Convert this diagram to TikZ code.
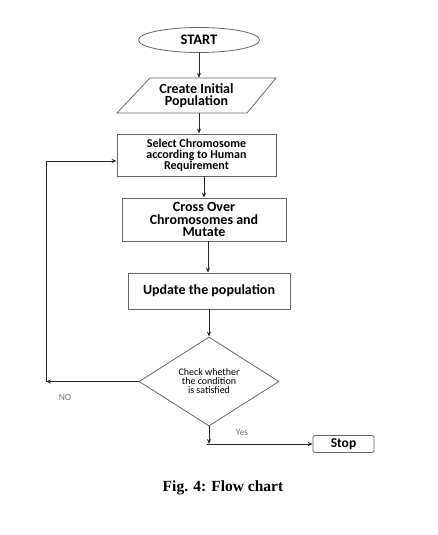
\documentclass[tikz,border=0pt]{standalone}
\usepackage{fontspec}
\setmainfont{Carlito}
\newfontfamily\capfont{Liberation Serif}
\usetikzlibrary{shapes.geometric,arrows.meta}
\begin{document}
\begin{tikzpicture}[x=1pt,y=-1pt,
  boxstyle/.style={draw=black!60, line width=0.8pt, align=center, inner sep=0pt},
  arr/.style={-{Stealth[length=5pt,width=4pt]}, line width=0.8pt, draw=black!85},
  plain/.style={line width=0.8pt, draw=black!85},
  lab/.style={text=black!55, font=\fontsize{9.5}{9.5}\selectfont, inner sep=0pt}]
\useasboundingbox[fill=white] (0,0) rectangle (438,535);

% START
\node[boxstyle, ellipse, minimum width=121pt, minimum height=25pt,
      font=\bfseries\fontsize{14.5}{14.5}\selectfont] (start) at (199,40) {START};

% Create Initial Population (parallelogram)
\node[inner sep=0pt, minimum width=159pt, minimum height=35pt, align=center,
      font=\bfseries\fontsize{14}{12.5}\selectfont] (create) at (196.5,95.5)
      {Create Initial\\Population};
\draw[draw=black!60, line width=0.8pt] (150,78) -- (276,78) -- (247,113) -- (117,113) -- cycle;

% Select
\node[boxstyle, minimum width=159pt, minimum height=42pt,
      font=\bfseries\fontsize{12}{11}\selectfont] (select) at (196.5,155)
      {Select Chromosome\\according to Human\\Requirement};

% Cross over
\node[boxstyle, minimum width=164pt, minimum height=43pt,
      font=\bfseries\fontsize{14}{12.5}\selectfont] (cross) at (204,219.5)
      {Cross Over\\Chromosomes and\\Mutate};

% Update
\node[boxstyle, minimum width=162pt, minimum height=36pt,
      font=\bfseries\fontsize{14}{14}\selectfont] (update) at (209,291)
      {Update the population};

% Check
\node[boxstyle, diamond, minimum width=140pt, minimum height=89pt, aspect=1.57,
      font=\fontsize{10}{9}\selectfont] (check) at (209,381.5)
      {Check whether\\the condition\\is satisfied};

% Stop
\node[boxstyle, rounded corners=2pt, minimum width=61pt, minimum height=17pt,
      font=\bfseries\fontsize{13.5}{13.5}\selectfont] (stop) at (343.5,444)
      {Stop};

% connectors
\draw[arr] (start.south) -- (start.south |- create.north);
\coordinate (c1) at (199,113);
\draw[arr] (c1) -- (c1 |- select.north);
\coordinate (c2) at (204,176);
\draw[arr] (c2) -- (c2 |- cross.north);
\coordinate (c3) at (208,241);
\draw[arr] (c3) -- (c3 |- update.north);
\coordinate (c4) at (209,309);
\draw[arr] (c4) -- (check.north);

% NO branch
\coordinate (nocorner) at (46,381.5);
\coordinate (notop) at (46,161);
\draw[arr] (check.west) -- (nocorner);
\draw[plain] (nocorner) -- (notop);
\draw[arr] (notop) -- (notop -| select.west);
\node[lab] (nolab) at (65,397) {NO};

% YES branch
\coordinate (yesc) at (check.south |- stop.west);
\coordinate (yesl) at (207,444);
\draw[arr] (check.south) -- (yesc);
\draw[arr] (yesl) -- (stop.west);
\node[lab] (yeslab) at (242,432) {Yes};

% caption
\node[font=\capfont\bfseries\fontsize{15.5}{18}\selectfont, inner sep=0pt] (cap) at (223,488)
  {Fig. 4: Flow chart};
\end{tikzpicture}
\end{document}
